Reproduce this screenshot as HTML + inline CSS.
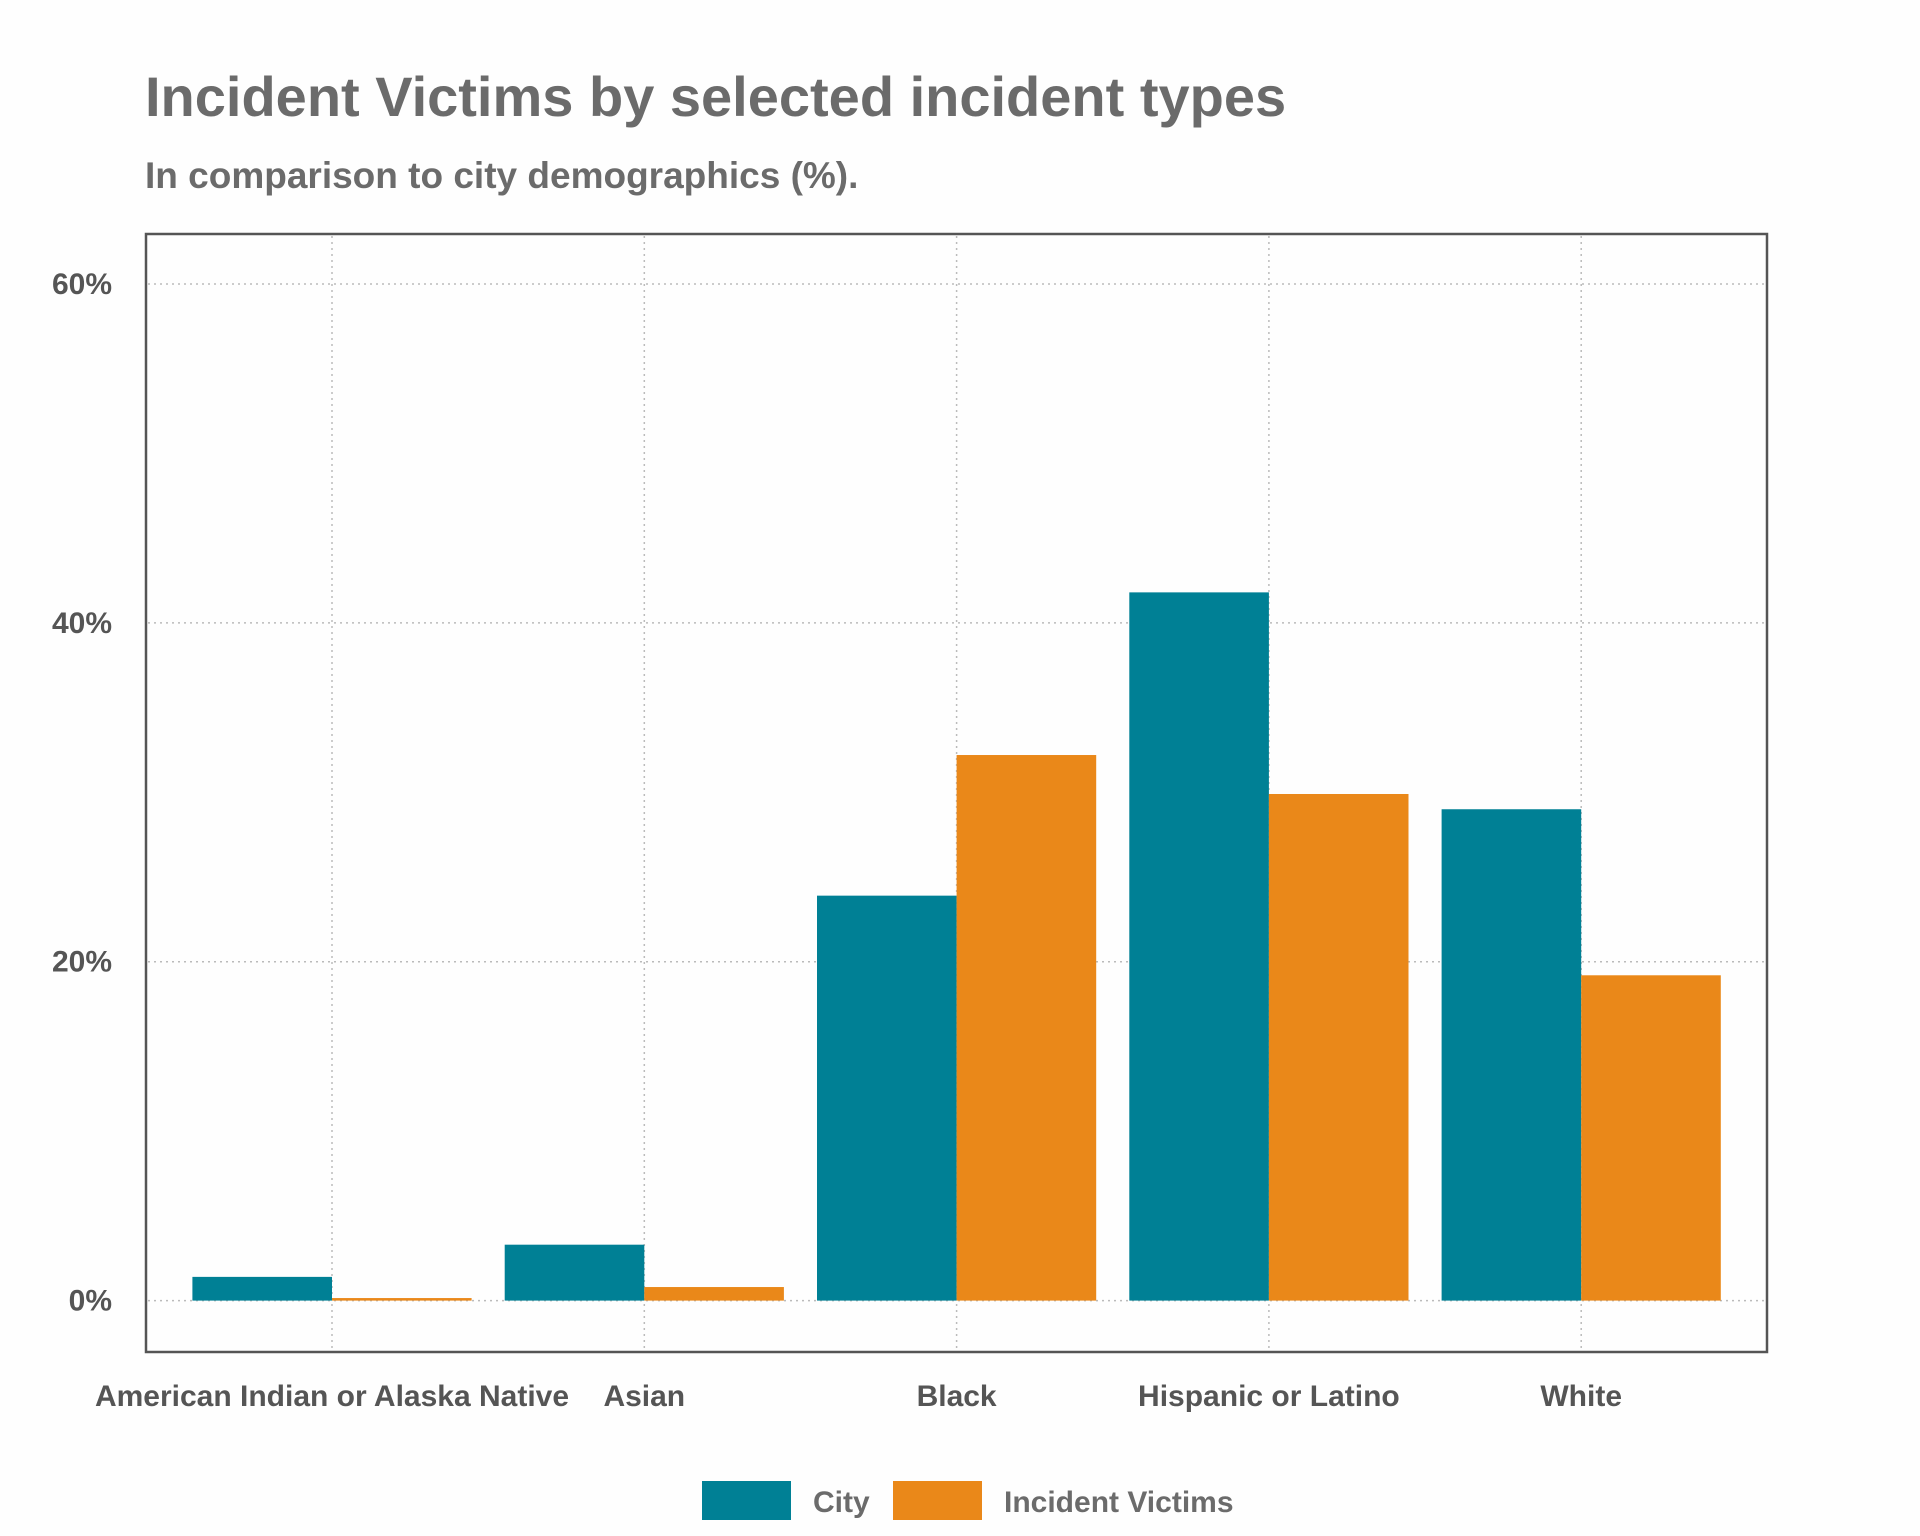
<!DOCTYPE html>
<html><head><meta charset="utf-8"><style>
body{margin:0;background:#fefefe;}
svg{display:block;font-family:"Liberation Sans",sans-serif;font-weight:bold;}
</style></head><body>
<svg id="chart" width="1920" height="1536" viewBox="0 0 1920 1536" xmlns="http://www.w3.org/2000/svg">
<rect width="1920" height="1536" fill="#fefefe"/>
<text x="145" y="116" font-size="56" fill="#6b6b6b">Incident Victims by selected incident types</text>
<text x="145" y="188" font-size="37" fill="#6b6b6b">In comparison to city demographics (%).</text>
<g id="grid"></g>
<g id="bars"></g>
<rect x="146" y="234" width="1621" height="1118" fill="none" stroke="#555" stroke-width="2.5"/>
<g id="yaxis"></g>
<g id="xaxis"></g>
<g>
<rect x="702" y="1481" width="89" height="39" fill="#008095"/>
<text x="813" y="1512" font-size="30" fill="#6b6b6b">City</text>
<rect x="893" y="1481" width="89" height="39" fill="#ea8819"/>
<text x="1004" y="1512" font-size="30" fill="#6b6b6b">Incident Victims</text>
</g>
</svg>
<script>
const categories = ["American Indian or Alaska Native","Asian","Black","Hispanic or Latino","White"];
const cityValues = [1.4, 3.3, 23.9, 41.8, 29.0];
const victimValues = [0.15, 0.8, 32.2, 29.9, 19.2];
const yTicks = [0, 20, 40, 60];
const yTickLabels = ["0%","20%","40%","60%"];

const NS = "http://www.w3.org/2000/svg";
const y0 = 1300.6, yPer = (1300.6 - 284) / 60;
function yScale(v){ return y0 - v * yPer; }
function xCenter(i){ return 332 + i * 312.3; }
const barW = 139.6;
function mk(tag, attrs, parent){ const e = document.createElementNS(NS, tag); for (const k in attrs) e.setAttribute(k, attrs[k]); parent.appendChild(e); return e; }
const grid = document.getElementById('grid'), bars = document.getElementById('bars');
const yaxis = document.getElementById('yaxis'), xaxis = document.getElementById('xaxis');

yTicks.forEach((t, i) => {
  const l = mk('line', {x1:148, x2:1765, y1:yScale(t), y2:yScale(t), stroke:'#bbb', 'stroke-width':1.5, 'stroke-dasharray':'2 4'}, grid);
  
  
  const tx = mk('text', {x:112, y:yScale(t) + 10, 'text-anchor':'end', 'font-size':30, fill:'#555'}, yaxis);
  tx.textContent = yTickLabels[i];
  
  
});
categories.forEach((c, i) => {
  const cx = xCenter(i);
  const g = mk('line', {x1:cx, x2:cx, y1:236, y2:1350, stroke:'#bbb', 'stroke-width':1.5, 'stroke-dasharray':'2 4'}, grid);
  
  
  const b1 = mk('rect', {x:cx - barW, y:yScale(cityValues[i]), width:barW, height:y0 - yScale(cityValues[i]), fill:'#008095'}, bars);
  
  
  const b2 = mk('rect', {x:cx, y:yScale(victimValues[i]), width:barW, height:y0 - yScale(victimValues[i]), fill:'#ea8819'}, bars);
  
  
  const tx = mk('text', {x:cx, y:1406, 'text-anchor':'middle', 'font-size':30, fill:'#555'}, xaxis);
  tx.textContent = c;
  
  
});
</script>
</body></html>
